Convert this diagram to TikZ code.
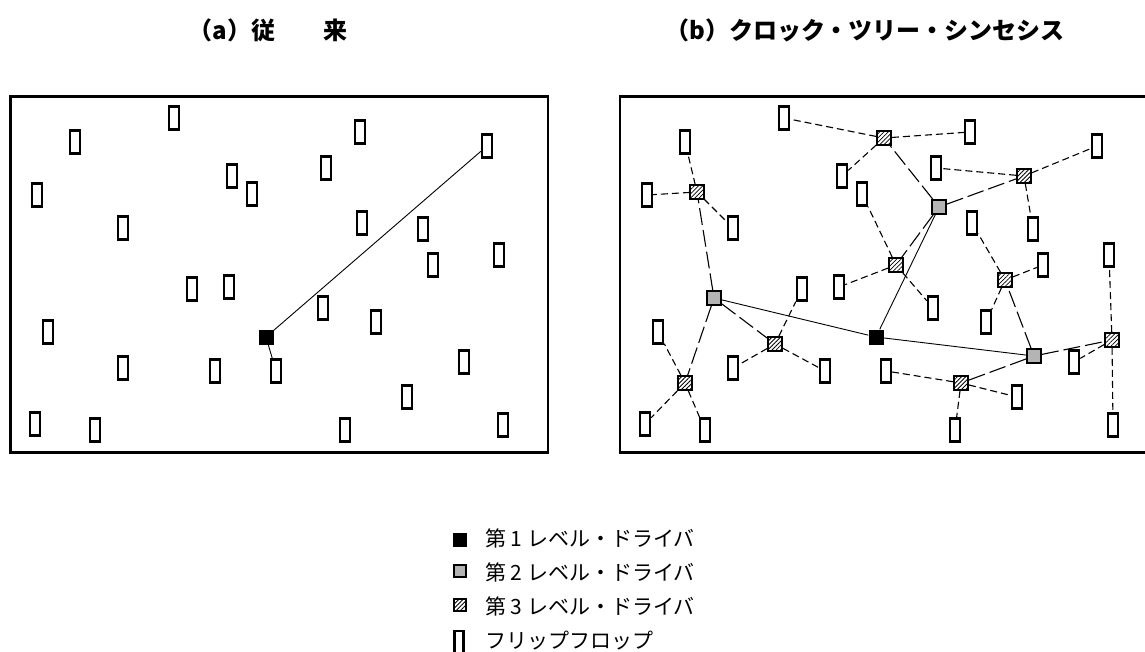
\documentclass[tikz,border=0pt]{standalone}
\usepackage{fontspec}
\setmainfont{Noto Sans CJK JP}
\usetikzlibrary{patterns.meta}
\definecolor{lvtwo}{HTML}{B4B4B4}
\tikzset{
  ff/.style={draw,line width=2.4pt,fill=white,minimum width=10pt,
    minimum height=23pt,inner sep=0pt},
  drvone/.style={fill=black,minimum size=15pt,inner sep=0pt},
  drvtwo/.style={draw,line width=2.3pt,fill=lvtwo,minimum size=13.5pt,inner sep=0pt},
  drvthree/.style={draw,line width=2.3pt,minimum size=13.5pt,inner sep=0pt,
    pattern={Lines[angle=45,distance=3pt,line width=0.8pt]}},
  frame/.style={line width=2.5pt},
  wire/.style={line width=0.9pt},
  branch/.style={line width=1.1pt,dash pattern=on 17pt off 5pt},
  leaf/.style={line width=1.1pt,dash pattern=on 7pt off 4pt},
  title/.style={font=\fontsize{24}{28}\selectfont\bfseries},
  keytext/.style={font=\fontsize{21}{25}\selectfont,anchor=west,inner sep=0pt}
}

\begin{document}
\begin{tikzpicture}[x=1pt,y=-1pt]
  \useasboundingbox (0,0) rectangle (1145,651);
  \node[title] (titlea) at (268,30) {（a）従　　来};
  \node[title] (titleb) at (865,30) {（b）クロック・ツリー・シンセシス};
  \draw[frame] (10.5,96.5) rectangle (548,452.5);
  \draw[frame] (1145,96.5) -- (620,96.5) -- (620,452.5) -- (1145,452.5);

  % flip-flops, same places in both panels
  \foreach \n/\x/\y in {1/174/118, 2/75/142, 3/37/195, 4/232/176, 5/252/194,
      6/123/228, 7/360/132, 8/326/168, 9/487/146, 10/362/223, 11/423/229,
      12/433/265, 13/499/255, 14/192/289, 15/229/287, 16/48/332, 17/123/368,
      18/215/371, 19/276/371, 20/35/424, 21/95/430, 22/323/308, 23/376/322,
      24/464/362, 25/407/397, 26/345/430, 27/503/425} {
    \node[ff] (a\n) at (\x,\y) {};
    \node[ff] (b\n) at (\x+610,\y) {};
  }

  % (a)
  \node[drvone] (roota) at (266,337) {};
  \draw[wire] (roota) -- (a9);
  \draw[wire] (roota) -- (a19);

  % (b)
  \node[drvone] (rootb) at (876,337) {};
  \node[drvtwo] (g1) at (714,298) {};
  \node[drvtwo] (g2) at (939,207) {};
  \node[drvtwo] (g3) at (1034,356) {};
  \node[drvthree] (h1) at (697,192) {};
  \node[drvthree] (h2) at (884,138) {};
  \node[drvthree] (h3) at (1024,176) {};
  \node[drvthree] (h4) at (896,265) {};
  \node[drvthree] (h5) at (1005,280) {};
  \node[drvthree] (h6) at (775,344) {};
  \node[drvthree] (h7) at (685,383) {};
  \node[drvthree] (h8) at (961,383) {};
  \node[drvthree] (h9) at (1112,340) {};
  \draw[wire] (rootb) -- (g1);
  \draw[wire] (rootb) -- (g2);
  \draw[wire] (rootb) -- (g3);
  \foreach \g/\h in {g1/h1, g1/h6, g1/h7, g2/h2, g2/h3, g2/h4, g3/h5, g3/h8, g3/h9}
    \draw[branch] (\g) -- (\h);
  \foreach \h/\f in {h1/b2, h1/b3, h1/b6, h2/b1, h2/b7, h2/b4, h3/b8, h3/b9, h3/b11,
      h4/b5, h4/b15, h4/b22, h5/b10, h5/b12, h5/b23, h6/b14, h6/b17, h6/b18,
      h7/b16, h7/b20, h7/b21, h8/b19, h8/b25, h8/b26, h9/b13, h9/b27, h9/b24}
    \draw[leaf] (\h) -- (\f);

  % legend
  \node[drvone,minimum size=14pt] (keyone) at (460,540) {};
  \node[drvtwo,minimum size=12pt] (keytwo) at (460,571) {};
  \node[drvthree,minimum size=12pt] (keythree) at (460,605) {};
  \node[ff,minimum width=9pt,minimum height=22pt] (keyff) at (459,642) {};
  \node[keytext] (labelone) at (485,538) {第 1 レベル・ドライバ};
  \node[keytext] (labeltwo) at (485,572.5) {第 2 レベル・ドライバ};
  \node[keytext] (labelthree) at (485,606.5) {第 3 レベル・ドライバ};
  \node[keytext] (labelff) at (485,641) {フリップフロップ};
\end{tikzpicture}
\end{document}
